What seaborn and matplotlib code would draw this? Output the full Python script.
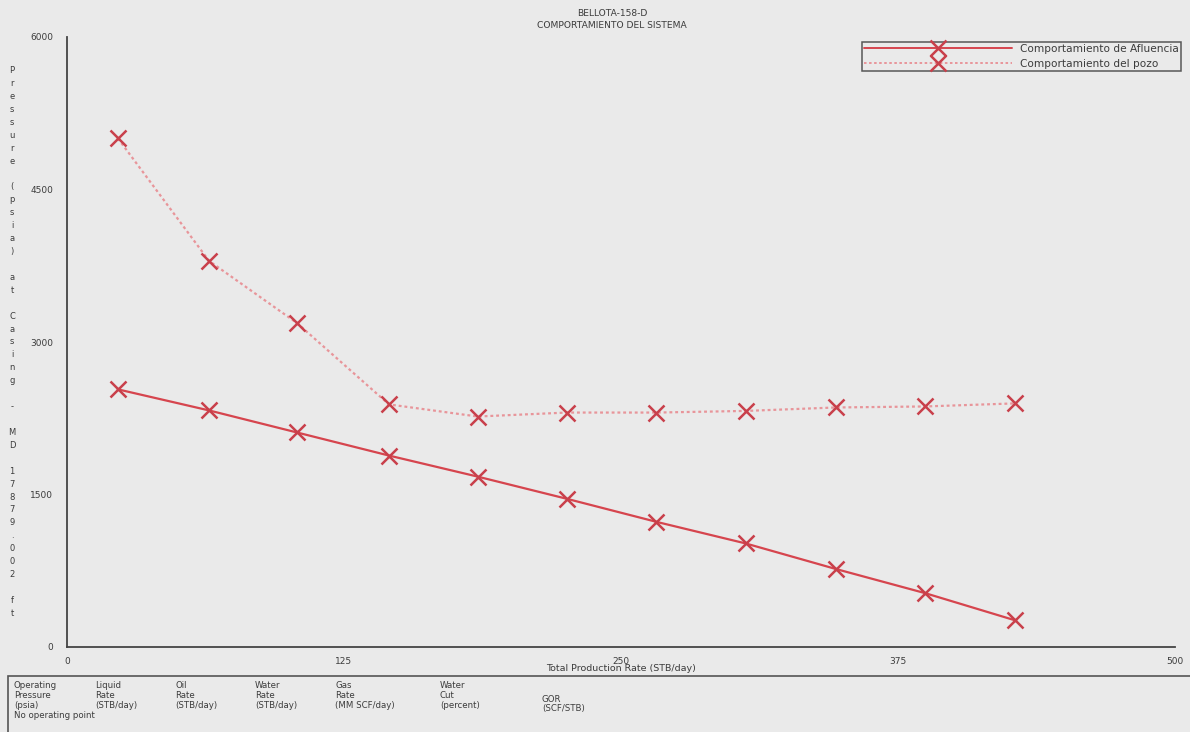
import matplotlib
matplotlib.use("Agg")
import matplotlib.pyplot as plt
from matplotlib.lines import Line2D
from matplotlib.patches import Rectangle
import seaborn as sns
import pandas as pd

# Total production rate (STB/day) at each computed point
rate = [23.0, 64.1, 103.8, 145.3, 185.3, 225.5, 266.0, 306.2, 347.0, 387.2, 427.6]
# Inflow performance (psia)
inflow = [2534, 2327, 2110, 1883, 1676, 1458, 1231, 1019, 767, 530, 264]
# Well (outflow) performance (psia)
outflow = [5002, 3798, 3186, 2386, 2267, 2306, 2306, 2322, 2356, 2366, 2396]

series_names = ["Comportamiento de Afluencia", "Comportamiento del pozo"]
x_ticks = [0, 125, 250, 375, 500]
y_ticks = [0, 1500, 3000, 4500, 6000]
table_headers = [
    ("Operating", "Pressure", "(psia)"),
    ("Liquid", "Rate", "(STB/day)"),
    ("Oil", "Rate", "(STB/day)"),
    ("Water", "Rate", "(STB/day)"),
    ("Gas", "Rate", "(MM SCF/day)"),
    ("Water", "Cut", "(percent)"),
]
gor_header = ("GOR", "(SCF/STB)")
ylabel_text = "Pressure (psia) at Casing - MD 17879.002 ft"

df = pd.DataFrame({
    "rate": rate * 2,
    "pressure": inflow + outflow,
    "curve": [series_names[0]] * len(rate) + [series_names[1]] * len(rate),
})

sns.set_theme(style="white")
plt.rcParams["font.family"] = ["DejaVu Sans"]

W, H = 1190, 732
TXT = "#3c3c3c"
fig = plt.figure(figsize=(W / 100, H / 100), dpi=100)
fig.patch.set_facecolor("#eaeaea")
ax = fig.add_axes([67 / W, 1 - 647 / H, (1175 - 67) / W, (647 - 37) / H])
ax.set_facecolor("none")

palette = {series_names[0]: "#d6454e", series_names[1]: "#e8959a"}
mk_edge = "#c9404b"
sns.lineplot(data=df, x="rate", y="pressure", hue="curve", style="curve",
             palette=palette, dashes={series_names[0]: "", series_names[1]: (1.3, 1.3)},
             markers={series_names[0]: "x", series_names[1]: "x"},
             markersize=11, markeredgewidth=1.8, linewidth=1.6, ax=ax, legend=False)
for ln in ax.lines:
    ln.set_markeredgecolor(mk_edge)

ax.set_xlim(0, 500)
ax.set_ylim(0, 6000)
ax.set_xticks(x_ticks)
ax.set_yticks(y_ticks)
ax.set_xticklabels([str(v) for v in x_ticks], fontsize=6.5, color=TXT)
ax.set_yticklabels([str(v) for v in y_ticks], fontsize=6.5, color=TXT)
ax.tick_params(axis="both", direction="out", length=4, width=1, color="#444444", pad=3)
ax.tick_params(axis="y", pad=6)
for s in ["top", "right"]:
    ax.spines[s].set_visible(False)
for s in ["left", "bottom"]:
    ax.spines[s].set_color("#444444")
    ax.spines[s].set_linewidth(1.3)
ax.set_xlabel("Total Production Rate (STB/day)", fontsize=6.8, color=TXT, labelpad=-1)
ax.set_ylabel("")

# Vertical letter-by-letter axis title
fig.text(12 / W, 1 - 342 / H, "\n".join(ylabel_text), fontsize=6, color=TXT,
         ha="center", va="center", linespacing=1.56)

# Title
fig.text(612 / W, 1 - 14 / H, "BELLOTA-158-D", fontsize=6.6, color=TXT, ha="center", va="center")
fig.text(612 / W, 1 - 25 / H, "COMPORTAMIENTO DEL SISTEMA", fontsize=6.6, color=TXT,
         ha="center", va="center")

# Legend
handles = [
    Line2D([], [], color=palette[series_names[0]], lw=1.4, marker="x", markersize=11,
           markeredgewidth=1.8, markeredgecolor=mk_edge),
    Line2D([], [], color=palette[series_names[1]], lw=1.4, ls=(0, (1.3, 1.3)), marker="x",
           markersize=11, markeredgewidth=1.8, markeredgecolor=mk_edge),
]
leg = ax.legend(handles, series_names, loc="upper right", bbox_to_anchor=(1.005, 0.992),
                fontsize=7.6, handlelength=14.0, handletextpad=0.7, frameon=True, numpoints=1,
                fancybox=False, borderpad=0.2, labelspacing=0.45, borderaxespad=0.0)
leg.get_frame().set_edgecolor("#333333")
leg.get_frame().set_facecolor("none")
leg.get_frame().set_linewidth(1.1)
for t in leg.get_texts():
    t.set_color(TXT)

# Operating-point table at the bottom
fig.patches.append(Rectangle((8 / W, -0.01), (W - 8) / W + 0.01, (732 - 676) / H + 0.01,
                             transform=fig.transFigure, fill=False, edgecolor="#555555",
                             linewidth=1.2))
col_x = [14, 95, 175, 255, 335, 440]
row_y = [685, 695, 706]
for cx, lines in zip(col_x, table_headers):
    for ry, txt in zip(row_y, lines):
        fig.text(cx / W, 1 - ry / H, txt, fontsize=6.2, color=TXT, ha="left", va="center")
fig.text(542 / W, 1 - 700 / H, gor_header[0], fontsize=6.2, color=TXT, ha="left", va="center")
fig.text(542 / W, 1 - 708 / H, gor_header[1], fontsize=6.2, color=TXT, ha="left", va="center")
fig.text(14 / W, 1 - 716 / H, "No operating point", fontsize=6.2, color=TXT,
         ha="left", va="center")

fig.savefig("out.png", dpi=100, facecolor=fig.get_facecolor())
